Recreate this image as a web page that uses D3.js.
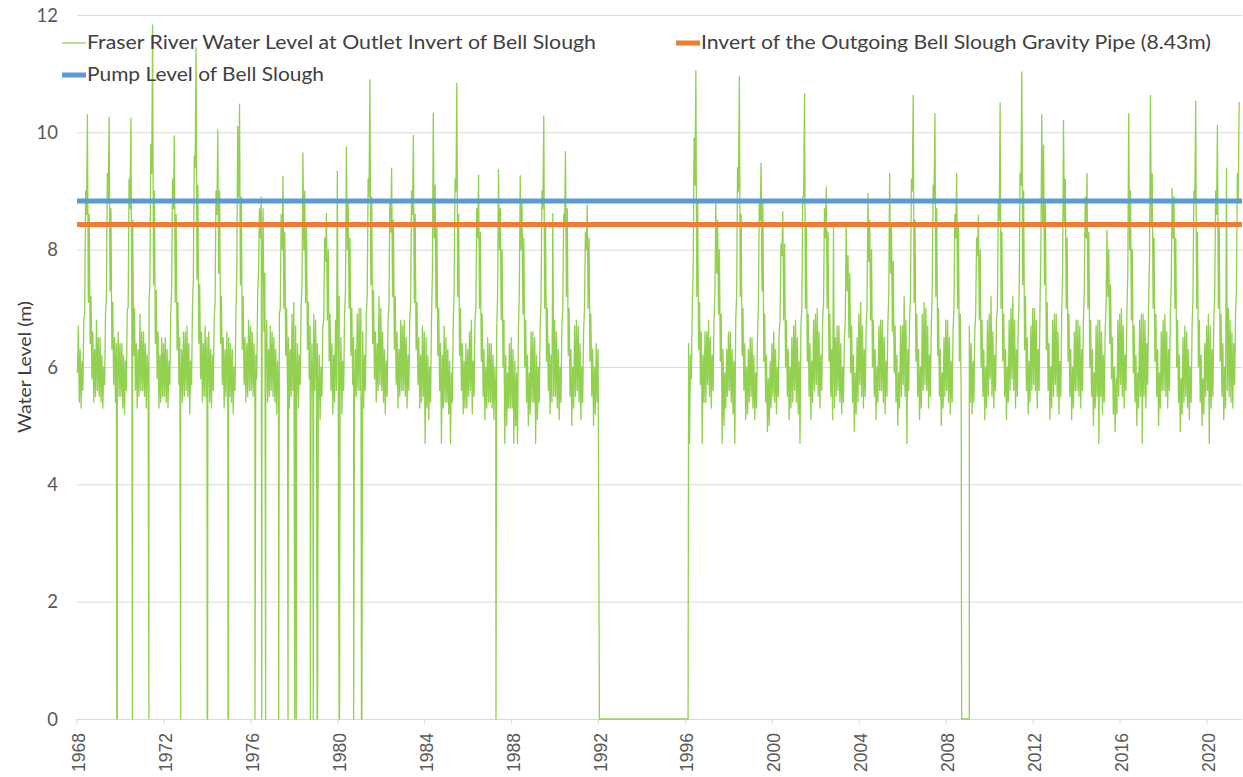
<!DOCTYPE html>
<html>
<head>
<meta charset="utf-8">
<script src="https://cdn.jsdelivr.net/npm/d3@7"></script>
<style>
  body { margin: 0; background: #fff; }
  text { font-family: Lato, "Open Sans", sans-serif; fill: #404040; }
</style>
</head>
<body>
<svg id="chart-root" width="1243" height="777"></svg>
<script>

//Data: years with monthly low / high water level (m)
const years = [1968, 1969, 1970, 1971, 1972, 1973, 1974, 1975, 1976, 1977, 1978, 1979,
    1980, 1981, 1982, 1983, 1984, 1985, 1986, 1987, 1988, 1989, 1990, 1991,
    1996, 1997, 1998, 1999, 2000, 2001, 2002, 2003, 2004, 2005, 2006, 2007, 2008, 2009,
    2010, 2011, 2012, 2013, 2014, 2015, 2016, 2017, 2018, 2019, 2020, 2021];

const lowLevels = [
    [5.9, 5.4, 5.3, 5.6, 6.9, 8.6, 7.1, 6.4, 5.8, 5.4, 5.5, 5.6],
    [5.5, 5.4, 5.3, 5.7, 7.2, 8.8, 7.3, 6.3, 5.7, 5.4, 5.6, 5.5],
    [5.5, 5.3, 5.2, 5.6, 7.0, 8.7, 7.0, 6.2, 5.6, 5.3, 5.5, 5.6],
    [5.6, 5.5, 5.3, 5.8, 7.4, 9.3, 7.4, 6.4, 5.8, 5.3, 5.4, 5.5],
    [5.5, 5.4, 5.3, 5.7, 7.3, 8.7, 7.1, 6.3, 5.7, 5.3, 5.4, 5.5],
    [5.6, 5.5, 5.2, 5.7, 7.5, 9.4, 7.5, 6.4, 5.8, 5.4, 5.5, 5.5],
    [5.6, 5.4, 5.3, 5.6, 7.1, 8.6, 7.6, 6.4, 5.7, 5.3, 5.5, 5.6],
    [5.5, 5.4, 5.2, 5.6, 7.6, 8.9, 7.4, 6.3, 5.7, 5.4, 5.5, 5.6],
    [5.6, 5.5, 5.3, 5.8, 7.6, 8.2, 7.4, 6.6, 5.9, 5.4, 5.5, 5.6],
    [5.5, 5.4, 5.2, 5.6, 7.0, 8.0, 7.0, 6.2, 5.6, 5.3, 5.5, 5.6],
    [5.6, 5.5, 5.3, 5.7, 7.4, 8.0, 7.1, 6.3, 5.8, 5.4, 5.5, 5.6],
    [5.5, 5.4, 5.1, 5.5, 6.8, 7.8, 6.8, 6.1, 5.6, 5.2, 5.4, 5.6],
    [5.8, 5.5, 5.2, 5.6, 7.3, 8.0, 7.0, 6.2, 5.7, 5.3, 5.5, 5.6],
    [5.6, 5.5, 5.3, 5.6, 7.2, 8.9, 7.4, 6.4, 5.8, 5.4, 5.6, 5.7],
    [5.6, 5.4, 5.2, 5.5, 7.0, 8.3, 7.2, 6.3, 5.7, 5.3, 5.5, 5.6],
    [5.6, 5.5, 5.3, 5.6, 7.1, 8.6, 7.1, 6.3, 5.7, 5.3, 5.4, 5.5],
    [4.7, 5.3, 5.1, 5.4, 7.6, 8.2, 7.0, 6.2, 5.6, 4.7, 5.3, 5.4],
    [5.4, 5.2, 4.7, 5.4, 7.3, 9.0, 7.2, 6.2, 5.6, 5.2, 5.3, 5.3],
    [5.5, 5.6, 5.2, 5.5, 7.0, 8.2, 7.0, 6.1, 5.5, 5.1, 5.3, 5.4],
    [5.4, 5.3, 5.1, 5.4, 7.2, 8.0, 6.8, 6.0, 4.7, 5.0, 5.3, 5.3],
    [5.3, 4.7, 5.0, 4.7, 7.3, 8.0, 6.9, 6.0, 5.4, 5.0, 5.2, 5.4],
    [5.4, 4.7, 5.1, 5.4, 7.1, 8.7, 7.0, 6.1, 5.6, 5.2, 5.4, 5.5],
    [5.5, 5.3, 5.1, 5.4, 7.0, 8.4, 7.2, 6.2, 5.5, 5.0, 5.3, 5.5],
    [5.6, 5.4, 5.1, 5.4, 7.0, 8.0, 7.0, 6.1, 5.5, 5.0, 5.2, 5.4],
    [5.6, 5.8, 4.7, 5.8, 7.6, 9.1, 7.2, 6.3, 5.7, 4.7, 5.4, 5.4],
    [5.7, 5.5, 5.3, 5.6, 7.2, 7.6, 6.9, 6.1, 4.7, 5.0, 5.3, 5.5],
    [5.6, 5.4, 5.2, 4.7, 7.2, 9.0, 7.2, 6.2, 5.6, 5.1, 5.2, 5.4],
    [5.5, 5.3, 5.1, 5.3, 7.0, 8.5, 7.3, 6.1, 5.4, 4.9, 5.0, 5.3],
    [5.5, 5.4, 5.2, 5.5, 6.8, 7.9, 6.8, 6.0, 5.5, 5.1, 5.3, 5.4],
    [5.6, 5.4, 5.2, 4.7, 7.0, 8.9, 7.0, 6.1, 5.5, 5.1, 5.4, 5.6],
    [5.7, 5.5, 5.3, 5.6, 7.1, 8.2, 7.0, 6.1, 5.5, 5.1, 5.3, 5.5],
    [5.6, 5.4, 5.2, 5.4, 6.8, 7.3, 6.5, 5.9, 5.4, 4.9, 5.2, 5.4],
    [5.7, 5.5, 5.3, 5.5, 7.0, 7.8, 6.8, 6.0, 5.5, 5.1, 5.4, 5.6],
    [5.6, 5.4, 5.2, 5.5, 7.2, 7.6, 6.6, 5.9, 5.4, 5.0, 5.3, 5.5],
    [5.7, 5.5, 4.7, 5.6, 7.2, 9.0, 7.1, 6.1, 5.5, 5.1, 5.3, 5.6],
    [5.7, 5.6, 5.3, 5.5, 7.3, 8.8, 7.2, 6.2, 5.5, 5.0, 5.3, 5.5],
    [5.6, 5.4, 5.2, 5.4, 7.0, 8.2, 7.0, 6.1, 5.5, 5.1, 5.3, 5.5],
    [5.5, 5.4, 5.2, 5.4, 6.9, 7.9, 6.8, 6.0, 5.5, 5.1, 5.3, 5.5],
    [5.8, 5.5, 5.3, 5.6, 7.0, 8.5, 7.0, 6.1, 5.5, 5.1, 5.4, 5.6],
    [5.8, 5.6, 5.3, 5.5, 7.2, 9.1, 7.4, 6.3, 5.6, 5.2, 5.4, 5.6],
    [5.7, 5.6, 5.3, 5.6, 8.0, 8.4, 7.4, 6.3, 5.6, 5.1, 5.3, 5.5],
    [5.7, 5.5, 5.2, 5.5, 7.6, 8.4, 7.0, 6.1, 5.5, 5.1, 5.3, 5.6],
    [5.6, 5.5, 5.3, 5.6, 7.3, 8.2, 7.0, 6.0, 5.5, 5.0, 5.3, 5.5],
    [4.7, 5.5, 5.2, 5.4, 7.0, 7.2, 6.4, 5.8, 5.2, 4.9, 5.2, 5.5],
    [5.7, 5.5, 5.3, 5.6, 7.6, 8.0, 6.8, 5.9, 5.4, 5.0, 5.3, 5.5],
    [4.7, 5.5, 5.3, 5.7, 7.8, 8.4, 7.0, 6.1, 5.5, 5.0, 5.3, 5.6],
    [5.6, 5.5, 5.3, 5.6, 7.4, 8.2, 7.0, 6.0, 5.4, 4.9, 5.2, 5.4],
    [5.5, 5.3, 5.1, 5.4, 7.2, 8.8, 7.0, 6.0, 5.4, 5.0, 5.2, 5.5],
    [5.6, 4.7, 5.3, 5.5, 7.2, 8.6, 7.0, 6.1, 5.5, 5.1, 5.3, 5.6],
    [5.5, 5.4, 5.3, 5.7, 7.3, 8.8]
];

const highLevels = [
    [6.7, 6.3, 6.1, 6.8, 9.0, 10.3, 8.6, 7.2, 6.6, 6.3, 6.8, 6.5],
    [6.5, 6.2, 6.0, 6.9, 9.3, 10.26, 8.7, 7.1, 6.5, 6.4, 6.6, 6.4],
    [6.4, 6.2, 6.1, 7.0, 9.2, 10.24, 8.5, 7.0, 6.4, 6.3, 6.9, 6.6],
    [6.6, 6.4, 6.2, 7.1, 9.8, 11.83, 9.0, 7.3, 6.6, 6.2, 6.5, 6.4],
    [6.5, 6.3, 6.1, 6.9, 9.2, 9.94, 8.6, 7.1, 6.5, 6.3, 6.6, 6.6],
    [6.7, 6.4, 6.1, 7.0, 9.6, 11.44, 9.1, 7.4, 6.6, 6.4, 6.7, 6.5],
    [6.6, 6.3, 6.2, 6.8, 9.0, 10.04, 9.0, 7.2, 6.5, 6.3, 6.6, 6.5],
    [6.4, 6.3, 6.0, 6.9, 10.1, 10.48, 8.9, 7.2, 6.5, 6.4, 6.8, 6.7],
    [6.6, 6.4, 6.2, 7.2, 8.7, 8.9, 8.7, 7.6, 6.8, 6.3, 6.7, 6.6],
    [6.5, 6.3, 6.1, 6.9, 8.6, 9.25, 8.3, 7.0, 6.5, 6.3, 6.9, 7.1],
    [6.7, 6.4, 6.2, 7.0, 9.65, 9.0, 8.4, 7.1, 6.7, 6.4, 6.9, 6.8],
    [6.4, 6.2, 6.0, 6.7, 8.2, 8.62, 8.0, 6.9, 6.4, 6.2, 6.8, 9.34],
    [7.2, 6.5, 6.1, 6.9, 9.75, 8.8, 8.2, 7.0, 6.5, 6.3, 6.9, 7.0],
    [7.0, 6.6, 6.2, 6.9, 9.2, 10.9, 8.9, 7.3, 6.6, 6.4, 7.2, 7.0],
    [6.6, 6.3, 6.1, 6.8, 8.8, 9.39, 8.5, 7.2, 6.6, 6.3, 6.8, 6.7],
    [6.8, 6.5, 6.2, 6.8, 9.0, 9.95, 8.6, 7.1, 6.5, 6.2, 6.7, 6.6],
    [6.5, 6.2, 6.0, 6.8, 10.33, 9.1, 8.4, 7.0, 6.4, 6.2, 6.7, 6.5],
    [6.3, 6.1, 5.9, 6.7, 9.2, 10.84, 8.6, 7.0, 6.4, 6.1, 6.4, 6.3],
    [6.6, 6.8, 6.1, 6.8, 8.7, 9.27, 8.3, 6.9, 6.3, 6.0, 6.5, 6.4],
    [6.4, 6.2, 6.0, 6.6, 9.37, 8.7, 8.0, 6.8, 6.2, 5.9, 6.4, 6.5],
    [6.3, 6.1, 5.9, 6.6, 9.26, 8.8, 8.2, 6.8, 6.2, 5.9, 6.6, 6.6],
    [6.5, 6.2, 6.0, 6.7, 9.0, 10.28, 8.4, 7.0, 6.4, 6.2, 8.62, 6.8],
    [6.6, 6.3, 6.0, 6.7, 8.6, 9.67, 8.7, 7.0, 6.3, 6.0, 6.7, 6.8],
    [6.7, 6.4, 6.0, 6.6, 8.3, 8.76, 8.2, 6.9, 6.3, 6.0, 6.4, 6.3],
    [6.3, 6.4, 6.2, 7.0, 9.9, 11.05, 8.8, 7.1, 6.6, 6.2, 6.6, 6.6],
    [6.8, 6.5, 6.2, 6.8, 8.79, 8.5, 8.0, 6.9, 6.3, 5.9, 6.3, 6.6],
    [6.6, 6.3, 6.1, 6.8, 9.4, 10.95, 8.6, 7.0, 6.4, 6.0, 6.3, 6.5],
    [6.5, 6.2, 5.9, 6.5, 8.8, 9.47, 8.8, 6.9, 6.2, 5.8, 6.1, 6.4],
    [6.6, 6.3, 6.0, 6.6, 8.1, 8.65, 8.1, 6.8, 6.3, 6.0, 6.5, 6.7],
    [6.8, 6.5, 6.1, 6.7, 8.9, 10.66, 8.4, 6.9, 6.4, 6.1, 6.8, 6.9],
    [7.0, 6.6, 6.2, 6.8, 8.7, 9.07, 8.3, 6.9, 6.3, 8.39, 6.5, 6.7],
    [6.7, 6.4, 6.0, 6.5, 8.4, 7.9, 7.6, 6.7, 6.2, 5.9, 6.5, 6.9],
    [7.1, 6.7, 6.3, 6.7, 8.96, 8.5, 8.0, 6.8, 6.3, 6.0, 6.7, 6.8],
    [6.8, 6.5, 6.1, 6.7, 9.3, 8.4, 7.8, 6.7, 6.2, 5.9, 6.7, 6.7],
    [7.2, 6.8, 6.3, 6.8, 9.2, 10.63, 8.5, 6.9, 6.3, 6.0, 6.9, 7.1],
    [7.0, 6.7, 6.2, 6.7, 9.1, 10.32, 8.7, 7.0, 6.3, 5.9, 6.5, 6.8],
    [6.8, 6.5, 6.1, 6.6, 8.6, 9.3, 8.4, 6.9, 6.4, 6.0, 6.6, 6.7],
    [6.7, 6.4, 6.1, 6.6, 8.2, 8.59, 8.0, 6.8, 6.3, 6.0, 6.8, 6.9],
    [7.2, 6.6, 6.2, 6.8, 8.8, 10.5, 8.3, 6.9, 6.3, 6.0, 6.8, 7.0],
    [7.2, 6.8, 6.3, 6.7, 9.3, 11.03, 9.0, 7.2, 6.5, 6.1, 6.7, 7.0],
    [7.0, 6.8, 6.3, 7.0, 10.3, 9.78, 8.8, 7.1, 6.4, 6.0, 6.8, 6.9],
    [6.9, 6.6, 6.1, 6.9, 10.2, 9.2, 8.2, 6.9, 6.3, 6.0, 6.6, 6.8],
    [6.8, 6.7, 6.3, 6.8, 8.9, 9.3, 8.3, 6.8, 6.3, 5.9, 6.7, 6.8],
    [6.8, 6.6, 6.2, 6.6, 8.33, 8.0, 7.4, 6.5, 6.0, 5.8, 6.8, 6.9],
    [7.0, 6.7, 6.2, 6.9, 10.32, 9.0, 8.0, 6.7, 6.2, 5.9, 6.8, 6.9],
    [6.9, 6.8, 6.4, 7.1, 10.63, 9.3, 8.2, 6.9, 6.3, 5.9, 6.6, 6.8],
    [6.9, 6.6, 6.3, 6.9, 9.05, 8.9, 8.2, 6.8, 6.2, 5.8, 6.5, 6.7],
    [6.6, 6.3, 6.0, 6.7, 9.0, 10.53, 8.3, 6.8, 6.2, 5.8, 6.4, 6.7],
    [6.9, 6.7, 6.3, 6.8, 9.0, 10.12, 8.4, 6.9, 6.4, 6.0, 9.39, 7.0],
    [6.8, 6.6, 6.4, 6.9, 9.3, 10.52]
];

// short drops of the gauge to 0 (decimal year)
const dropoutDates = [1969.83, 1969.85, 1970.55, 1971.31, 1972.77, 1973.99, 1974.01,
    1974.95, 1974.97, 1976.19, 1976.5, 1976.68, 1977.28, 1977.71, 1978.02, 1978.09,
    1978.74, 1978.87, 1979.05, 1979.07, 1980.06, 1980.08, 1980.73, 1981.09, 1981.11, 1987.28];

// periods with no record, plotted at 0
const zeroSpans = [[1992.04, 1996.12], [2008.71, 2009.06]];

const pumpLevel = 8.83;
const pipeInvert = 8.43;

const xTicks = [1968, 1972, 1976, 1980, 1984, 1988, 1992, 1996, 2000, 2004, 2008, 2012, 2016, 2020];
const yTicks = [0, 2, 4, 6, 8, 10, 12];

const seriesNames = [
    'Fraser River Water Level at Outlet Invert of Bell Slough',
    'Invert of the Outgoing Bell Slough Gravity Pipe (8.43m)',
    'Pump Level of Bell Slough'
];


//Layout
const svg = d3.select('#chart-root');
const plotLeft = 77;
const plotRight = 1242;
const plotTop = 15;
const plotBottom = 719;

const green = '#92D050';
const orange = '#ED7D31';
const blue = '#5B9BD5';
const gridColor = '#D9D9D9';

//Scales
const x = d3.scaleLinear().domain([1968, 2021.61]).range([plotLeft, plotRight]);
const y = d3.scaleLinear().domain([0, 12]).range([plotBottom, plotTop]);


//Build the series: low then high for every month
let points = [];
years.forEach((yr, i) => {
    lowLevels[i].forEach((lo, m) => {
        points.push([yr + (m + 0.25) / 12, lo]);
        points.push([yr + (m + 0.75) / 12, highLevels[i][m]]);
    });
});
points = points.filter(p => !zeroSpans.some(s => p[0] > s[0] && p[0] < s[1]));
dropoutDates.forEach(t => points.push([t, 0]));
zeroSpans.forEach(s => { points.push([s[0], 0]); points.push([s[1], 0]); });
points.sort((a, b) => a[0] - b[0]);


//Gridlines
svg.append('g')
    .selectAll('line')
    .data(yTicks)
    .enter().append('line')
    .attr('x1', plotLeft)
    .attr('x2', plotRight)
    .attr('y1', d => y(d) + 0.5)
    .attr('y2', d => y(d) + 0.5)
    .attr('stroke', gridColor)
    .attr('stroke-width', 1);

//X axis ticks and labels
const xAxis = svg.append('g');
xAxis.selectAll('line')
    .data(xTicks)
    .enter().append('line')
    .attr('x1', d => x(d))
    .attr('x2', d => x(d))
    .attr('y1', plotBottom)
    .attr('y2', plotBottom + 5)
    .attr('stroke', gridColor);

xAxis.selectAll('text')
    .data(xTicks)
    .enter().append('text')
    .attr('transform', d => `translate(${x(d) + 8}, ${plotBottom + 14}) rotate(-90)`)
    .attr('text-anchor', 'end')
    .style('font-family', '"Liberation Sans", Arial, sans-serif')
    .style('font-size', '17.5px')
    .style('fill', '#595959')
    .text(d => d);

//Y axis labels
svg.append('g')
    .selectAll('text')
    .data(yTicks)
    .enter().append('text')
    .attr('x', 58)
    .attr('y', d => y(d) + 6.5)
    .attr('text-anchor', 'end')
    .style('font-size', '18.5px')
    .style('fill', '#595959')
    .text(d => d);

svg.append('text')
    .attr('transform', `translate(31, ${(plotTop + plotBottom) / 2}) rotate(-90)`)
    .attr('text-anchor', 'middle')
    .style('font-size', '17px')
    .attr('textLength', 132)
    .attr('lengthAdjust', 'spacingAndGlyphs')
    .text('Water Level (m)');


//Water level line
const line = d3.line().x(d => x(d[0])).y(d => y(d[1]));
svg.append('path')
    .datum(points)
    .attr('d', line)
    .attr('fill', 'none')
    .attr('stroke', green)
    .attr('stroke-width', 1.3)
    .attr('stroke-linejoin', 'round');

//Constant levels
svg.append('line')
    .attr('x1', plotLeft).attr('x2', plotRight)
    .attr('y1', y(pipeInvert)).attr('y2', y(pipeInvert))
    .attr('stroke', orange)
    .attr('stroke-width', 5);

svg.append('line')
    .attr('x1', plotLeft).attr('x2', plotRight)
    .attr('y1', y(pumpLevel)).attr('y2', y(pumpLevel))
    .attr('stroke', blue)
    .attr('stroke-width', 5);


//Legend
const legendItems = [
    { name: seriesNames[0], color: green, width: 1.3, lx: 62, ly: 43, textWidth: 509 },
    { name: seriesNames[1], color: orange, width: 5, lx: 676, ly: 43, textWidth: 510 },
    { name: seriesNames[2], color: blue, width: 5, lx: 62, ly: 75, textWidth: 237 }
];

const legend = svg.append('g')
    .selectAll('g')
    .data(legendItems)
    .enter().append('g')
    .attr('transform', d => `translate(${d.lx}, ${d.ly})`);

legend.append('line')
    .attr('x1', 0)
    .attr('x2', 24)
    .attr('stroke', d => d.color)
    .attr('stroke-width', d => d.width);

legend.append('text')
    .attr('x', 25)
    .attr('y', 6)
    .style('font-size', '18.5px')
    .attr('textLength', d => d.textWidth)
    .attr('lengthAdjust', 'spacingAndGlyphs')
    .text(d => d.name);

</script>
</body>
</html>
